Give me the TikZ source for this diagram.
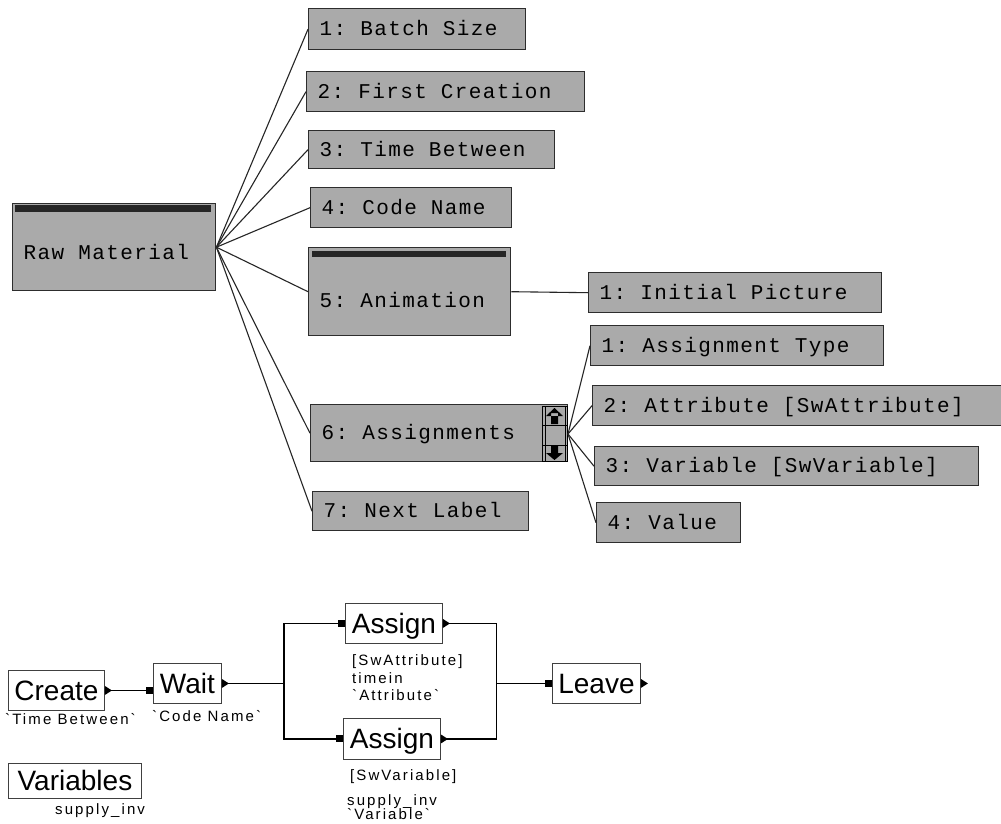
\documentclass[tikz,border=0pt]{standalone}
\usepackage{fontspec}
\usetikzlibrary{calc}
\newfontfamily\fldfont{Liberation Mono}[LetterSpace=6.7]
\newfontfamily\blkfont{Liberation Sans}
\newfontfamily\notefont{Liberation Sans}[LetterSpace=14]
% field captions: monospaced, every space a full character cell
\newcommand\fieldtext{\fldfont\fontsize{21}{21}\selectfont}
\newcommand\gap{\hspace*{14pt}}
\definecolor{fieldgray}{RGB}{170,170,170}
\definecolor{edge}{RGB}{45,45,45}
\begin{document}
\begin{tikzpicture}[x=1pt,y=-1pt,
  fld/.style={draw=edge, line width=1.4pt, fill=fieldgray, anchor=north west,
    inner xsep=11pt, inner ysep=0pt, align=left, font=\fieldtext,
    text height=13pt, text depth=0pt, text width=#1},
  link/.style={draw=black!85, line width=1.1pt},
  blk/.style={draw=black!75, line width=0.9pt, fill=white, anchor=north west,
    inner sep=0pt, font=\blkfont\fontsize{28}{28}\selectfont,
    text height=20pt, text depth=0pt},
  inport/.style={fill=black, draw=none, rectangle, minimum width=7pt,
    minimum height=7pt, inner sep=0pt, anchor=east},
  outport/.style={fill=black},
  wire/.style={draw=black, line width=1.2pt},
  note/.style={font=\notefont\fontsize{15}{15}\selectfont, inner sep=0pt,
    anchor=west, text height=11pt, text depth=0pt}
]
\useasboundingbox[fill=white] (0,0) rectangle (1001,824);

% ---- entity and its fields ----
\node[fld=181pt, minimum height=87pt, text height=24pt] (rm) at (12,203) {Raw\gap Material};
\fill[black!85] ($(rm.north west)+(3,2)$) rectangle ($(rm.north east)+(-5,9)$);

\node[fld=195pt, minimum height=41pt] (f1) at (308,8)   {1:\gap Batch\gap Size};
\node[fld=256pt, minimum height=40pt] (f2) at (306,71)  {2:\gap First\gap Creation};
\node[fld=224pt, minimum height=38pt] (f3) at (308,130) {3:\gap Time\gap Between};
\node[fld=179pt, minimum height=40pt] (f4) at (310,187) {4:\gap Code\gap Name};
\node[fld=180pt, minimum height=88pt, text height=31pt] (f5) at (308,247) {5:\gap Animation};
\fill[black!85] ($(f5.north west)+(4,4)$) rectangle ($(f5.north east)+(-5,10)$);
\node[fld=235pt, minimum height=57pt] (f6) at (310,404) {6:\gap Assignments};
\node[fld=194pt, minimum height=39pt] (f7) at (312,491) {7:\gap Next\gap Label};

% scroll control of the assignments list
\node[draw=black, line width=1pt, fill=fieldgray, anchor=north west, inner sep=0pt,
  minimum width=25pt, minimum height=55pt] (scr) at (542,406) {};
\draw[black, line width=0.8pt] (545,406) -- (545,461) (565,406) -- (565,461)
  (542,425) -- (567,425) (542,445) -- (567,445);
\fill[black] (551,413) rectangle (558,424) (546,416) -- (554.5,408) -- (563,416) -- cycle;
\fill[black] (551,446) rectangle (558,456) (546,453) -- (554.5,460) -- (563,453) -- cycle;

% sub-fields
\node[fld=271pt, minimum height=40pt] (c1) at (588,272) {1:\gap Initial\gap Picture};
\node[fld=271pt, minimum height=40pt] (a1) at (590,325) {1:\gap Assignment\gap Type};
\node[fld=390pt, minimum height=40pt] (a2) at (592,385) {2:\gap Attribute\gap [SwAttribute]};
\node[fld=362pt, minimum height=39pt] (a3) at (594,446) {3:\gap Variable\gap [SwVariable]};
\node[fld=122pt, minimum height=40pt] (a4) at (596,502) {4:\gap Value};

\foreach \f in {f1,f2,f3,f4,f5,f6,f7} \draw[link] (rm.east) -- (\f.west);
\draw[link] (f5.east) -- (c1.west);
\foreach \f in {a1,a2,a3,a4} \draw[link] (scr.east) -- (\f.west);

% ---- block model ----
\node[blk, minimum width=96pt, minimum height=40pt] (cr) at (8,670)   {Create};
\node[blk, minimum width=68pt, minimum height=40pt] (wt) at (153,663) {Wait};
\node[blk, minimum width=97pt, minimum height=40pt] (as1) at (345,603) {Assign};
\node[blk, minimum width=97pt, minimum height=41pt] (as2) at (343,718) {Assign};
\node[blk, minimum width=88pt, minimum height=40pt] (lv) at (552,663)  {Leave};
\node[blk, minimum width=133pt, minimum height=35pt] (vr) at (8,763)  {Variables};

\node[inport] (wti) at (wt.west |- cr.east) {};
\node[inport] (as1i) at (as1.west) {};
\node[inport] (as2i) at (as2.west) {};
\node[inport] (lvi) at (lv.west) {};

\coordinate (sp) at ($(wt.east)+(62,0)$);
\coordinate (jn) at ($(lvi.west)+(-48,0)$);

\draw[wire] (cr.east) -- (wti.west);
\draw[wire] (wt.east) -- (sp);
\draw[wire] (as1i.west) -| (sp) |- (as2i.west);
\draw[wire] (as1.east) -| (jn) |- (as2.east);
\draw[wire] (jn) -- (lvi.west);

\foreach \b in {cr,wt,as1,as2,lv}
  \fill[outport] (\b.east) ++(0,-4.5) -- ++(7,4.5) -- ++(-7,4.5) -- cycle;

\node[note] (n1) at (5,719)   {\symbol{96}Time Between\symbol{96}};
\node[note] (n2) at (152,716) {\symbol{96}Code Name\symbol{96}};
\node[note] (n3) at (55,809)  {supply\_inv};
\node[note] (n4) at (352,660) {[SwAttribute]};
\node[note] (n5) at (352,678) {timein};
\node[note] (n6) at (352,695) {\symbol{96}Attribute\symbol{96}};
\node[note] (n7) at (350,775) {[SwVariable]};
\node[note] (n8) at (347,800) {supply\_inv};
\node[note] (n9) at (347,814) {\symbol{96}Variable\symbol{96}};
\end{tikzpicture}
\end{document}
